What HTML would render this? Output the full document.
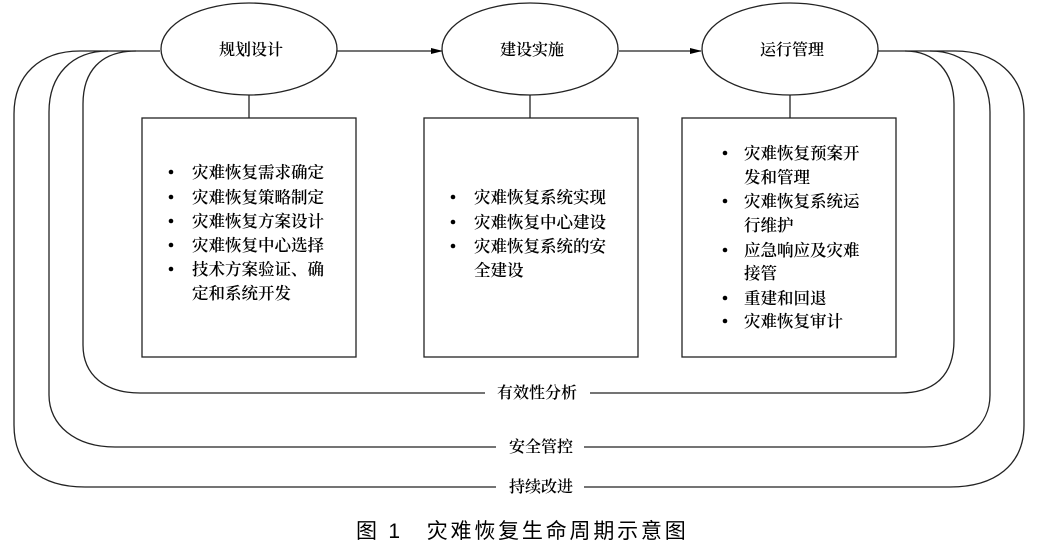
<!DOCTYPE html>
<html><head><meta charset="utf-8"><style>
html,body{margin:0;padding:0;background:#fff;}
svg{display:block;}
text{font-family:"Liberation Serif","Noto Serif CJK SC","Noto Sans CJK SC",serif;fill:#000;}
</style></head><body>
<svg width="1038" height="548" viewBox="0 0 1038 548" xmlns="http://www.w3.org/2000/svg">
<defs><marker id="ar" markerWidth="12" markerHeight="8" refX="11" refY="4" orient="auto" markerUnits="userSpaceOnUse"><path d="M0,1 L12,4 L0,7 Z" fill="#000"/></marker></defs>
<g fill="none" stroke="#222" stroke-width="1.3">
<path d="M160,51 H136 C100,51 83,72 83,104 V345 C83,375 105,393 140,393 H485"/>
<path d="M590,393 H900 C935,393 954,375 954,340 V104 C954,72 935,51 905,51 H878"/>
<path d="M136,51 H108 C72,51 49,75 49,112 V395 C49,425 75,447 115,447 H496"/>
<path d="M584,447 H925 C965,447 990,425 990,395 V112 C990,75 965,51 930,51 H905"/>
<path d="M108,51 H80 C40,51 14,75 14,114 V425 C14,465 40,487 85,487 H496"/>
<path d="M584,487 H950 C995,487 1024,465 1024,425 V114 C1024,75 995,51 955,51 H930"/>
<line x1="337" y1="51" x2="442" y2="51" marker-end="url(#ar)"/>
<line x1="619" y1="51" x2="701" y2="51" marker-end="url(#ar)"/>
<line x1="249" y1="95" x2="249" y2="118"/>
<line x1="530" y1="95" x2="530" y2="118"/>
<line x1="790" y1="95" x2="790" y2="118"/>
<ellipse cx="249" cy="49" rx="88" ry="46" fill="#fff"/>
<ellipse cx="530" cy="49" rx="88" ry="46" fill="#fff"/>
<ellipse cx="790" cy="49" rx="88" ry="46" fill="#fff"/>
<rect x="142" y="118" width="214" height="239"/>
<rect x="424" y="118" width="214" height="239"/>
<rect x="682" y="118" width="214" height="239"/>
</g>
<g font-size="16" font-weight="600">
<text x="251" y="55" text-anchor="middle">规划设计</text>
<text x="532" y="55" text-anchor="middle">建设实施</text>
<text x="792" y="55" text-anchor="middle">运行管理</text>
<text x="537" y="398" text-anchor="middle">有效性分析</text>
<text x="541" y="452" text-anchor="middle">安全管控</text>
<text x="541" y="492" text-anchor="middle">持续改进</text>
</g>
<g font-size="16.5" font-weight="600" fill="#000">
<circle cx="171" cy="172" r="2.3"/><circle cx="171" cy="197" r="2.3"/><circle cx="171" cy="221" r="2.3"/><circle cx="171" cy="245" r="2.3"/><circle cx="171" cy="269" r="2.3"/>
<text x="192" y="178">灾难恢复需求确定</text>
<text x="192" y="203">灾难恢复策略制定</text>
<text x="192" y="227">灾难恢复方案设计</text>
<text x="192" y="251">灾难恢复中心选择</text>
<text x="192" y="275">技术方案验证、确</text>
<text x="192" y="299">定和系统开发</text>
<circle cx="453" cy="197" r="2.3"/><circle cx="453" cy="222" r="2.3"/><circle cx="453" cy="246" r="2.3"/>
<text x="474" y="203">灾难恢复系统实现</text>
<text x="474" y="228">灾难恢复中心建设</text>
<text x="474" y="252">灾难恢复系统的安</text>
<text x="474" y="276">全建设</text>
<circle cx="725" cy="153" r="2.3"/><circle cx="725" cy="201" r="2.3"/><circle cx="725" cy="250" r="2.3"/><circle cx="725" cy="298" r="2.3"/><circle cx="725" cy="321" r="2.3"/>
<text x="744" y="159">灾难恢复预案开</text>
<text x="744" y="183">发和管理</text>
<text x="744" y="207">灾难恢复系统运</text>
<text x="744" y="231">行维护</text>
<text x="744" y="256">应急响应及灾难</text>
<text x="744" y="279">接管</text>
<text x="744" y="304">重建和回退</text>
<text x="744" y="327">灾难恢复审计</text>
</g>
<text x="356" y="538" font-size="21" letter-spacing="2.8" style="font-family:'Liberation Sans','Noto Sans CJK SC',sans-serif">图 1　灾难恢复生命周期示意图</text>
</svg>
</body></html>
